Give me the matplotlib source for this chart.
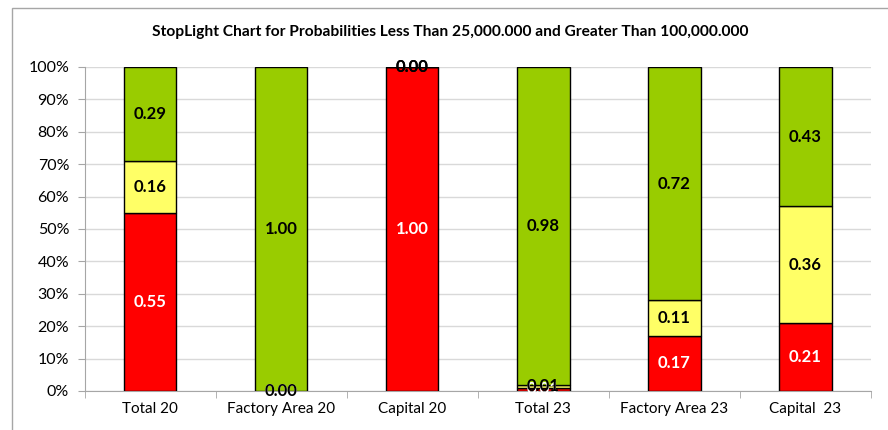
import numpy as np
import matplotlib
matplotlib.use("Agg")
import matplotlib.pyplot as plt
from matplotlib.patches import Rectangle

plt.rcParams['font.family'] = ['Lato', 'DejaVu Sans']

categories = ["Total 20", "Factory Area 20", "Capital 20", "Total 23", "Factory Area 23", "Capital  23"]
red_vals = [0.55, 0.00, 1.00, 0.01, 0.17, 0.21]
yellow_vals = [0.16, 0.00, 0.00, 0.01, 0.11, 0.36]
green_vals = [0.29, 1.00, 0.00, 0.98, 0.72, 0.43]

fig = plt.figure(figsize=(8.88, 4.30), dpi=100)
fig.patch.set_facecolor('white')
# outer chart frame
fig.add_artist(Rectangle((12 / 888, -0.1), 1.0, 1 - 8 / 430 + 0.1, transform=fig.transFigure,
                         fill=False, edgecolor='#a6a6a6', lw=1.0))

ax = fig.add_axes([84.5 / 888, 1 - 391 / 430, (871 - 84.5) / 888, (391 - 67) / 430])

x = np.arange(len(categories))
series = [(red_vals, '#ff0000', 'white'),
          (yellow_vals, '#ffff66', 'black'),
          (green_vals, '#99cc00', 'black')]

bottom = np.zeros(len(categories))
for vals, col, tcol in series:
    vals = np.array(vals)
    ax.bar(x, vals, bottom=bottom, width=0.4, color=col, edgecolor='black', lw=1.0, zorder=3)
    for xi, b, v in zip(x, bottom, vals):
        ax.text(xi, b + v / 2, f"{v:.2f}", ha='center', va='center', color=tcol,
                fontsize=12, fontweight='bold', zorder=5)
    bottom = bottom + vals

ax.set_xlim(-0.5, len(categories) - 0.5)
ax.set_ylim(0, 1)
ax.set_yticks(np.arange(0, 1.01, 0.1))
ax.set_yticklabels([f"{int(round(v * 100))}%" for v in np.arange(0, 1.01, 0.1)], fontsize=11.5)
ax.yaxis.grid(True, color='#d9d9d9', lw=1.0, zorder=0)
ax.set_axisbelow(True)

ax.set_xticks(x)
ax.set_xticklabels(categories, fontsize=11)
ax.tick_params(axis='x', length=0, pad=8)
ax.set_xticks(np.arange(-0.5, len(categories)), minor=True)
ax.tick_params(axis='x', which='minor', length=5, color='#a6a6a6')
ax.tick_params(axis='y', length=5, color='#a6a6a6', pad=6)

for s in ['top', 'right']:
    ax.spines[s].set_visible(False)
for s in ['left', 'bottom']:
    ax.spines[s].set_color('#a6a6a6')

fig.text(0.5 + 12 / 888 / 2, 1 - 32 / 430, "StopLight Chart for Probabilities Less Than 25,000.000 and Greater Than 100,000.000",
         ha='center', va='center', fontsize=11.2, fontweight='bold')

fig.savefig("out.png", dpi=100)
